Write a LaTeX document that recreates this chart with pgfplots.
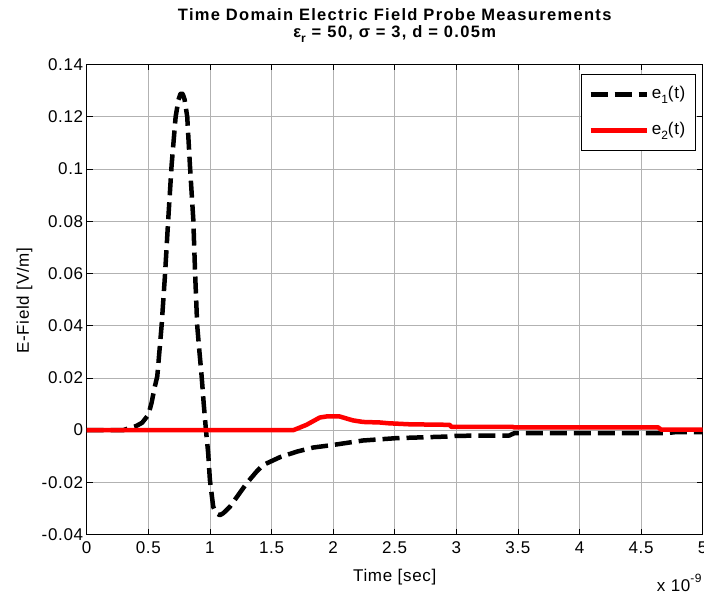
\documentclass[border=0pt]{standalone}
\usepackage{fontspec}
\setmainfont{Liberation Sans}[LetterSpace=4]
\usepackage{pgfplots}
\pgfplotsset{compat=1.18}
\newcommand{\msub}[1]{\raisebox{-0.32em}{\fontsize{12bp}{12bp}\selectfont #1}}

\pgfplotstableread{
t v
0 0
0.30 0
0.35 0.0008
0.40 0.0015
0.45 0.0028
0.50 0.0058
0.527 0.0105
0.55 0.016
0.573 0.0206
0.59 0.030
0.608 0.040
0.635 0.059
0.662 0.0808
0.689 0.1013
0.722 0.120
0.745 0.1265
0.760 0.1286
0.770 0.129
0.780 0.1286
0.795 0.1265
0.816 0.120
0.838 0.1013
0.865 0.0808
0.88 0.060
0.897 0.040
0.915 0.030
0.933 0.0206
0.95 0.010
0.968 0
0.986 -0.0088
1.0 -0.0191
1.027 -0.0294
1.05 -0.0318
1.081 -0.0326
1.11 -0.0318
1.162 -0.0294
1.23 -0.0249
1.298 -0.0204
1.379 -0.0159
1.432 -0.0134
1.568 -0.0104
1.703 -0.0083
1.838 -0.0067
2.0 -0.0057
2.243 -0.0040
2.514 -0.0031
2.92 -0.0025
3.0 -0.0022
3.43 -0.0021
3.47 -0.0012
4.70 -0.0012
4.78 -0.0008
5.0 -0.0008
}\eone

\pgfplotstableread{
t v
0 0
1.68 0
1.784 0.0020
1.892 0.0048
1.946 0.0052
2.054 0.0052
2.11 0.0044
2.162 0.0037
2.243 0.0031
2.379 0.0029
2.45 0.0026
2.622 0.0022
2.946 0.0020
2.96 0.0012
3.46 0.0012
3.47 0.0010
4.64 0.0010
4.66 0.0002
5.0 0.0002
}\etwo

\begin{document}
\begin{tikzpicture}
\begin{axis}[
  at={(0,0)}, anchor=south west,
  scale only axis, width=616bp, height=470bp,
  xmin=0, xmax=5, ymin=-0.04, ymax=0.14,
  xtick={0,0.5,1,1.5,2,2.5,3,3.5,4,4.5,5},
  ytick={-0.04,-0.02,0,0.02,0.04,0.06,0.08,0.1,0.12,0.14},
  scaled x ticks=false, scaled y ticks=false,
  grid=major,
  major grid style={gray!60, line width=0.5bp},
  axis line style={line width=0.6bp},
  tick style={black, line width=0.6bp},
  major tick length=6bp,
  tick align=inside,
  /pgf/number format/assume math mode=true,
  ticklabel style={font=\fontsize{17bp}{19bp}\selectfont},
  xticklabel style={/pgf/number format/fixed, /pgf/number format/precision=1, yshift=-4bp},
  yticklabel style={/pgf/number format/fixed, /pgf/number format/precision=2},
  legend style={at={(0.9886,0.9798)}, anchor=north east, draw=black, line width=0.6bp,
    fill=white, font=\fontsize{17bp}{19bp}\selectfont,
    inner xsep=7bp, inner ysep=8bp,
    nodes={inner xsep=3bp, inner ysep=4bp, text height=12bp, text depth=4bp},
    row sep=12bp},
  legend cell align=left,
  legend image code/.code={\draw[#1] (0bp,0bp) -- (56bp,0bp);},
]
\addplot[black, line width=4.5bp, line join=round, dash pattern=on 17bp off 7bp] table[x=t,y=v] {\eone};
\addlegendentry{e\msub{1}(t)}
\addplot[red, line width=4.5bp, line join=round] table[x=t,y=v] {\etwo};
\addlegendentry{e\msub{2}(t)}
\end{axis}
\node[anchor=base, font=\bfseries\fontsize{16.5bp}{19bp}\selectfont\addfontfeature{LetterSpace=8}] at (308bp,513.8bp) {Time Domain Electric Field Probe Measurements};
\node[anchor=base, font=\bfseries\fontsize{16.5bp}{19bp}\selectfont\addfontfeature{LetterSpace=8}] at (308bp,497.2bp) {ε\raisebox{-0.3em}{\fontsize{12bp}{12bp}\selectfont r} = 50, σ = 3, d = 0.05m};
\node[anchor=base, font=\fontsize{17bp}{19bp}\selectfont] at (308bp,-47.2bp) {Time [sec]};
\node[anchor=base, rotate=90, font=\fontsize{17bp}{19bp}\selectfont] at (-57.7bp,233.7bp) {E-Field [V/m]};
\node[anchor=base west, inner sep=0pt, font=\fontsize{17bp}{19bp}\selectfont] at (570bp,-57.2bp) {x 10\raisebox{0.55em}{\fontsize{12bp}{12bp}\selectfont -9}};
\pgfresetboundingbox
\path[use as bounding box] (-86.7bp,-62.5bp) rectangle (617.3bp,534.5bp);
\end{tikzpicture}
\end{document}
